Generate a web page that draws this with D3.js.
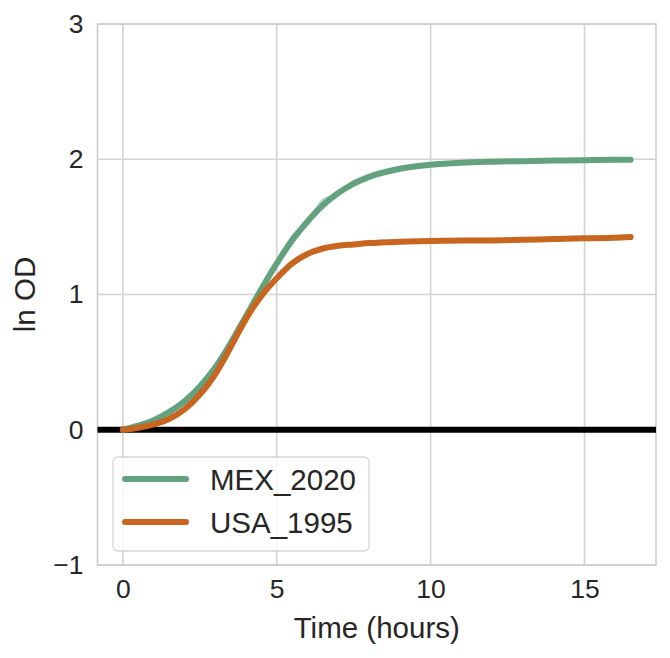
<!DOCTYPE html>
<html>
<head>
<meta charset="utf-8">
<script src="https://cdn.jsdelivr.net/npm/d3@7"></script>
<style>
  body { margin: 0; background: #fff; }
  text { font-family: "Liberation Sans", Arial, sans-serif; fill: #262626; }
</style>
</head>
<body>
<div id="chart"></div>
<script>
// growth curves, ln OD vs time (hours)
const times = [0, 0.5, 1, 1.5, 2, 2.5, 3, 3.5, 4, 4.5, 5, 5.5, 6, 6.5, 7, 7.5, 8, 9, 10, 11, 12, 13, 14, 15, 16, 16.5];
const mex2020 = [0, 0.03, 0.07, 0.13, 0.21, 0.32, 0.46, 0.64, 0.84, 1.04, 1.23, 1.40, 1.54, 1.66, 1.75, 1.82, 1.87, 1.93, 1.96, 1.975, 1.982, 1.986, 1.99, 1.993, 1.996, 1.997];
const mexReplicate = [0, 0.03, 0.07, 0.13, 0.22, 0.33, 0.47, 0.65, 0.85, 1.05, 1.22, 1.43, 1.52, 1.70, 1.74, 1.84, 1.86, 1.94, 1.96, 1.97, 1.98, 1.987, 1.99, 1.992, 1.995, 1.997];
const usa1995 = [0, 0.015, 0.04, 0.08, 0.15, 0.26, 0.41, 0.61, 0.82, 0.99, 1.12, 1.23, 1.30, 1.34, 1.36, 1.37, 1.38, 1.39, 1.395, 1.40, 1.40, 1.405, 1.41, 1.415, 1.42, 1.425];
const seriesNames = ["MEX_2020", "USA_1995"];
const seriesColors = ["#62a27f", "#c8651f"];
const xTicks = [0, 5, 10, 15];
const yTicks = [-1, 0, 1, 2, 3];

const W = 670, H = 658;
const margin = {top: 24, right: 14, bottom: 93, left: 97.5};

const svg = d3.select("#chart").append("svg")
    .attr("width", W)
    .attr("height", H);

const xScale = d3.scaleLinear()
    .domain([-0.825, 17.325])
    .range([margin.left, W - margin.right]);

const yScale = d3.scaleLinear()
    .domain([-1, 3])
    .range([H - margin.bottom, margin.top]);

// grid
svg.append("g").selectAll("line.vgrid")
    .data(xTicks).enter().append("line")
    .attr("x1", d => xScale(d)).attr("x2", d => xScale(d))
    .attr("y1", yScale(-1)).attr("y2", yScale(3))
    .attr("stroke", "#d3d3d3").attr("stroke-width", 1.6);

svg.append("g").selectAll("line.hgrid")
    .data(yTicks).enter().append("line")
    .attr("x1", xScale.range()[0]).attr("x2", xScale.range()[1])
    .attr("y1", d => yScale(d)).attr("y2", d => yScale(d))
    .attr("stroke", "#d3d3d3").attr("stroke-width", 1.6);

// frame
svg.append("rect")
    .attr("x", xScale.range()[0]).attr("y", yScale(3))
    .attr("width", xScale.range()[1] - xScale.range()[0])
    .attr("height", yScale(-1) - yScale(3))
    .attr("fill", "none").attr("stroke", "#cccccc").attr("stroke-width", 1.6);

// axes (labels only)
const xAxis = d3.axisBottom(xScale).tickValues(xTicks).tickSize(0).tickPadding(14);
const gx = svg.append("g")
    .attr("transform", `translate(0,${yScale(-1)})`)
    .call(xAxis);
gx.select(".domain").remove();
gx.selectAll("text").style("font-size", "26.5px").attr("fill", "#262626");

const yAxis = d3.axisLeft(yScale).tickValues(yTicks).tickSize(0).tickPadding(14)
    .tickFormat(d => d < 0 ? "\u2212" + Math.abs(d) : d);
const gy = svg.append("g")
    .attr("transform", `translate(${xScale.range()[0]},0)`)
    .call(yAxis);
gy.select(".domain").remove();
gy.selectAll("text").style("font-size", "26.5px").attr("fill", "#262626");

// axis titles
svg.append("text")
    .attr("x", (xScale.range()[0] + xScale.range()[1]) / 2)
    .attr("y", 638)
    .attr("text-anchor", "middle")
    .style("font-size", "29.5px")
    .text("Time (hours)");

svg.append("text")
    .attr("transform", `translate(35,${(yScale(-1) + yScale(3)) / 2}) rotate(-90)`)
    .attr("text-anchor", "middle")
    .style("font-size", "29.5px")
    .text("ln OD");

// zero line
svg.append("line")
    .attr("x1", xScale.range()[0]).attr("x2", xScale.range()[1])
    .attr("y1", yScale(0)).attr("y2", yScale(0))
    .attr("stroke", "#000").attr("stroke-width", 6);

// curves
const line = d3.line()
    .x((d, i) => xScale(times[i]))
    .y(d => yScale(d))
    .curve(d3.curveMonotoneX);

svg.append("path")
    .datum(mexReplicate)
    .attr("d", line)
    .attr("fill", "none")
    .attr("stroke", seriesColors[0])
    .attr("stroke-opacity", 0.45)
    .attr("stroke-width", 2.5);

[mex2020, usa1995].forEach((vals, k) => {
    svg.append("path")
        .datum(vals)
        .attr("d", line)
        .attr("fill", "none")
        .attr("stroke", seriesColors[k])
        .attr("stroke-width", 6)
        .attr("stroke-linecap", "round")
        .attr("stroke-linejoin", "round");
});

// legend
const legend = svg.append("g");
legend.append("rect")
    .attr("x", 113).attr("y", 457)
    .attr("width", 256).attr("height", 94)
    .attr("rx", 5)
    .attr("fill", "#fff").attr("fill-opacity", 0.8)
    .attr("stroke", "#d6d6d6").attr("stroke-width", 1.3);

seriesNames.forEach((name, i) => {
    const yy = 479 + i * 43;
    legend.append("line")
        .attr("x1", 125).attr("x2", 186)
        .attr("y1", yy).attr("y2", yy)
        .attr("stroke", seriesColors[i])
        .attr("stroke-width", 6)
        .attr("stroke-linecap", "round");
    legend.append("text")
        .attr("x", 210).attr("y", yy + 11)
        .style("font-size", "29.5px")
        .text(name);
});
</script>
</body>
</html>
